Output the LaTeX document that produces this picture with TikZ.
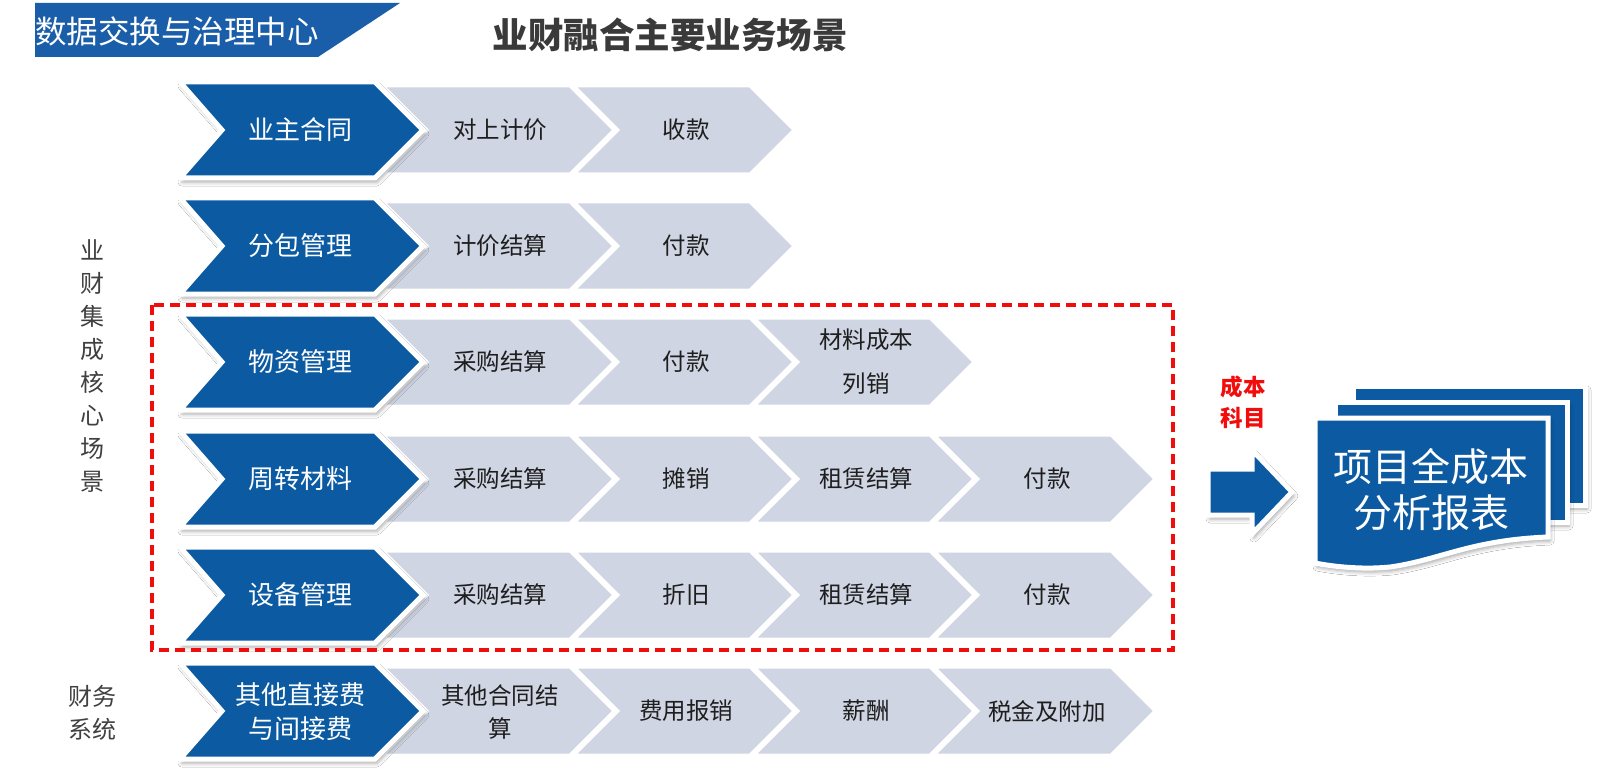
\documentclass[tikz,border=0pt]{standalone}
\usepackage{fontspec}
\setmainfont{Noto Sans CJK SC}
\usetikzlibrary{shadows,shadows.blur}
\definecolor{cblue}{HTML}{0B5AA2}
\definecolor{cband}{HTML}{1A5EA9}
\definecolor{cgray}{HTML}{CFD5E3}
\definecolor{cred}{HTML}{F20D0D}
\definecolor{ctext}{HTML}{1E1E1E}
\definecolor{clabel}{HTML}{404040}
\definecolor{ctitle}{HTML}{3A3A3A}
\tikzset{
  bluebody/.style={fill=cblue, draw=white, line width=5pt, line join=miter,
    blur shadow={shadow xshift=2pt, shadow yshift=-4pt, shadow blur radius=4pt, shadow opacity=35}},
  graybody/.style={fill=cgray, draw=white, line width=3pt, line join=miter},
  bluetext/.style={text=white, font=\fontsize{26}{34}\selectfont, align=center, inner sep=0pt},
  graytext/.style={text=ctext, font=\fontsize{23.5}{33}\selectfont, align=center, inner sep=0pt},
  sidetext/.style={text=clabel, font=\fontsize{24}{33}\selectfont, align=center, inner sep=0pt},
  sheet/.style={fill=cblue, draw=white, line width=5pt, line join=miter,
    blur shadow={shadow xshift=2pt, shadow yshift=-4pt, shadow blur radius=4pt, shadow opacity=35}},
}
\newcommand\bluechev[1]{%
  \path[bluebody] (180,#1-48) -- (375,#1-48) -- (423,#1) -- (375,#1+48) -- (180,#1+48) -- (222,#1) -- cycle;}
\newcommand\graychev[3]{% previous tip, tip, centre y
  \path[graybody] (#1-40,#3-44) -- (#2-44,#3-44) -- (#2,#3) -- (#2-44,#3+44) -- (#1-40,#3+44) -- (#1+4,#3) -- cycle;}
\begin{document}
\begin{tikzpicture}[x=1pt,y=-1pt]
\useasboundingbox[fill=white] (0,0) rectangle (1600,778);

% header band
\path[fill=cband] (35,3) -- (400,3) -- (318,57) -- (35,57) -- cycle;
\node[text=white, font=\fontsize{31.5}{36}\selectfont, inner sep=0pt] (hdr) at (177,31) {数据交换与治理中心};
\node[text=ctitle, font=\fontsize{35.5}{40}\selectfont\bfseries, inner sep=0pt] (title) at (670,35) {业财融合主要业务场景};

% row 1
\graychev{614}{794}{130}
\graychev{423}{614}{130}
\bluechev{130}
\node[bluetext] (b1) at (300,130) {业主合同};
\node[graytext] (g11) at (500,130) {对上计价};
\node[graytext] (g12) at (686,130) {收款};

% row 2
\graychev{614}{794}{246}
\graychev{423}{614}{246}
\bluechev{246}
\node[bluetext] (b2) at (300,246) {分包管理};
\node[graytext] (g21) at (500,246) {计价结算};
\node[graytext] (g22) at (686,246) {付款};

% row 3
\graychev{794}{974}{362}
\graychev{614}{794}{362}
\graychev{423}{614}{362}
\bluechev{362}
\node[bluetext] (b3) at (300,362) {物资管理};
\node[graytext] (g31) at (500,362) {采购结算};
\node[graytext] (g32) at (686,362) {付款};
\node[graytext, font=\fontsize{23.5}{44}\selectfont] (g33) at (866,362) {材料成本\\列销};

% row 4
\graychev{974}{1155}{479}
\graychev{794}{974}{479}
\graychev{614}{794}{479}
\graychev{423}{614}{479}
\bluechev{479}
\node[bluetext] (b4) at (300,479) {周转材料};
\node[graytext] (g41) at (500,479) {采购结算};
\node[graytext] (g42) at (686,479) {摊销};
\node[graytext] (g43) at (866,479) {租赁结算};
\node[graytext] (g44) at (1047,479) {付款};

% row 5
\graychev{974}{1155}{595}
\graychev{794}{974}{595}
\graychev{614}{794}{595}
\graychev{423}{614}{595}
\bluechev{595}
\node[bluetext] (b5) at (300,595) {设备管理};
\node[graytext] (g51) at (500,595) {采购结算};
\node[graytext] (g52) at (686,595) {折旧};
\node[graytext] (g53) at (866,595) {租赁结算};
\node[graytext] (g54) at (1047,595) {付款};

% row 6
\graychev{974}{1155}{711}
\graychev{794}{974}{711}
\graychev{614}{794}{711}
\graychev{423}{614}{711}
\bluechev{711}
\node[bluetext] (b6) at (300,712) {其他直接费\\与间接费};
\node[graytext] (g61) at (500,712) {其他合同结\\算};
\node[graytext] (g62) at (686,711) {费用报销};
\node[graytext] (g63) at (866,711) {薪酬};
\node[graytext] (g64) at (1047,711) {税金及附加};

% side labels
\node[sidetext] (side1) at (92,366) {业\\财\\集\\成\\核\\心\\场\\景};
\node[sidetext] (side2) at (92,713) {财务\\系统};

% dashed frame
\draw[cred, line width=3.5pt, dash pattern=on 10pt off 6pt] (152,305) rectangle (1173,650);

% cost subject label and arrow
\node[text=cred, font=\fontsize{22.5}{31}\selectfont\bfseries, align=center, inner sep=0pt] (cost) at (1243,402) {成本\\科目};
\path[sheet] (1208,469) -- (1252,469) -- (1252,450) -- (1292,492) -- (1252,534) -- (1252,515) -- (1208,515) -- cycle;

% report stack
\path[sheet] (1353,386) rectangle (1585,505);
\path[sheet] (1335,402) rectangle (1567,522);
\path[sheet] (1315,418) -- (1548,418) -- (1548,537)
   .. controls (1470,540) and (1440,560) .. (1390,567)
   .. controls (1360,570) and (1330,566) .. (1315,563) -- cycle;
\node[text=white, font=\fontsize{39}{46}\selectfont, align=center, inner sep=0pt] (report) at (1431,490) {项目全成本\\分析报表};
\end{tikzpicture}
\end{document}
